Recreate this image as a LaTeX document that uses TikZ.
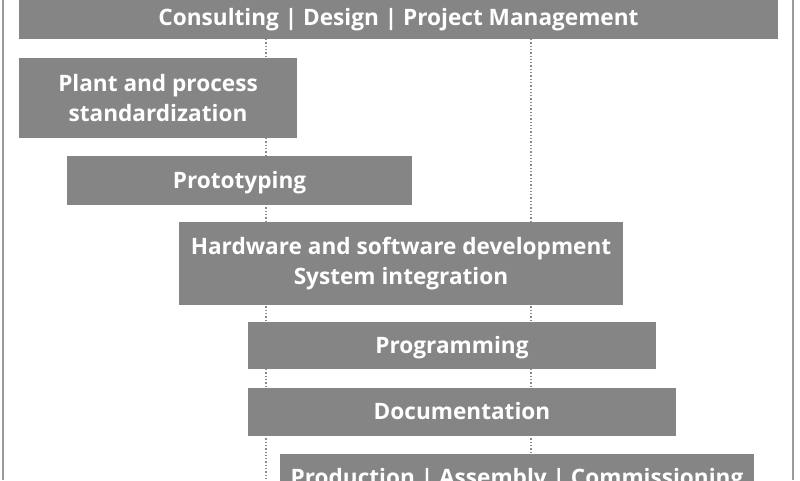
\documentclass[tikz,border=0pt]{standalone}
\usepackage{fontspec}
\setmainfont{Open Sans}
\usetikzlibrary{backgrounds}
\definecolor{boxgray}{HTML}{858585}
\definecolor{guidegray}{HTML}{8A8A8A}
\definecolor{framegray}{HTML}{9A9A9A}
\begin{document}
\begin{tikzpicture}[x=1pt,y=-1pt,
  phase/.style={rectangle, fill=boxgray, draw=none, text=white, align=center,
    inner sep=0pt, font=\fontsize{22.6}{30}\selectfont\bfseries},
  oneline/.style={phase, text height=17pt, text depth=2pt},
  guide/.style={draw=guidegray, line width=1.3pt, dotted},
  frameline/.style={draw=framegray, line width=1.6pt}]
\useasboundingbox (0,0) rectangle (800,480);
\node[oneline, minimum width=759pt, minimum height=42pt] (b1) at (398.5,18) {Consulting | Design | Project Management};
\node[phase, minimum width=278pt, minimum height=80pt] (b2) at (158,98) {Plant and process\\standardization};
\node[oneline, minimum width=345pt, minimum height=49pt] (b3) at (239.5,180.5) {Prototyping};
\node[phase, minimum width=444pt, minimum height=83pt] (b4) at (401,263.5) {Hardware and software development\\System integration};
\node[oneline, minimum width=408pt, minimum height=47pt] (b5) at (452,345.5) {Programming};
\node[oneline, minimum width=428pt, minimum height=48pt] (b6) at (462,412) {Documentation};
\node[oneline, minimum width=474pt, minimum height=48pt] (b7) at (517,477.5) {Production | Assembly | Commissioning};
\coordinate (g1top) at (266,39);
\coordinate (g1bot) at (266,480);
\coordinate (g2top) at (531,39);
\coordinate (g2bot) at (531,480);
\coordinate (fl1) at (3,0);
\coordinate (fl2) at (3,480);
\coordinate (fr1) at (793,0);
\coordinate (fr2) at (793,480);
\begin{scope}[on background layer]
\draw[guide] (g1top) -- (g1bot);
\draw[guide] (g2top) -- (g2bot);
\end{scope}
\draw[frameline] (fl1) -- (fl2);
\draw[frameline] (fr1) -- (fr2);
\end{tikzpicture}
\end{document}
